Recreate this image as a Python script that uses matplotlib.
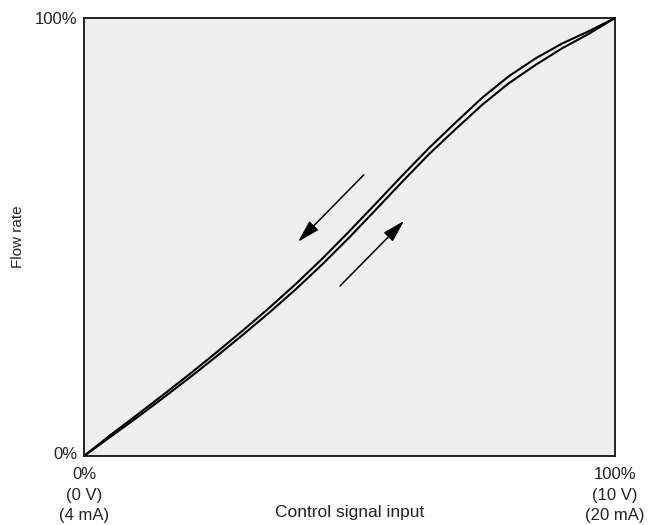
import matplotlib.pyplot as plt
from matplotlib.transforms import ScaledTranslation

plt.rcParams["font.family"] = ["Liberation Sans", "DejaVu Sans"]

# control signal (% of span) vs flow rate (%), two branches of the hysteresis loop
signal = [0, 5, 10, 15, 20, 25, 30, 35, 40, 45, 50, 55, 60, 65, 70, 75, 80, 85, 90, 95, 100]
flow_decreasing = [0, 4.8, 9.4, 14.05, 18.8, 23.7, 28.75, 33.95, 39.4, 45.2, 51.35,
                   57.7, 64.1, 70.35, 76.15, 81.8, 86.7, 90.75, 94.15, 96.95, 100]
flow_increasing = [0, 4.4, 8.8, 13.35, 18.0, 22.8, 27.75, 32.85, 38.2, 43.9, 49.95,
                   56.3, 62.7, 68.95, 74.65, 80.2, 85.1, 89.25, 93.05, 96.35, 100]

x_ticks = [0, 100]
x_tick_labels = ["0%\n(0 V)\n(4 mA)", "100%\n(10 V)\n(20 mA)"]
y_ticks = [0, 100]
y_tick_labels = ["0%", "100%"]

# direction arrows: (tail, head) in data units
arrow_down = ((52.7, 64.2), (40.3, 48.9))
arrow_up = ((48.2, 38.8), (60.3, 53.7))

fig = plt.figure(figsize=(6.63, 5.25), dpi=100)
ax = fig.add_axes([84 / 663, 1 - 456 / 525, 531 / 663, 438 / 525])
ax.set_facecolor("#efefef")

for flow in (flow_decreasing, flow_increasing):
    ax.plot(signal, flow, color="black", lw=1.5,
            solid_capstyle="round", solid_joinstyle="round")

for tail, head in (arrow_down, arrow_up):
    ax.annotate("", xy=head, xytext=tail,
                arrowprops=dict(arrowstyle="-|>,head_length=1.15,head_width=0.32",
                                color="black", lw=1.1, shrinkA=0, shrinkB=0,
                                mutation_scale=12))

ax.set_xlim(0, 100)
ax.set_ylim(0, 100)
ax.set_xticks(x_ticks, labels=x_tick_labels)
ax.set_yticks(y_ticks, labels=y_tick_labels)
ax.tick_params(length=0, labelsize=12, colors="#222222")
ax.tick_params(axis="x", pad=8)
ax.tick_params(axis="y", pad=5)
for lab in ax.get_xticklabels():
    lab.set_linespacing(1.45)
# the bottom "0%" sits a little above the axis line
ylabs = ax.get_yticklabels()
ylabs[0].set_transform(ylabs[0].get_transform() + ScaledTranslation(0, 3 / 100, fig.dpi_scale_trans))
for sp in ax.spines.values():
    sp.set_linewidth(1.2)

ax.text(0.5, -0.128, "Control signal input", transform=ax.transAxes,
        ha="center", va="center", fontsize=12.5, color="#222222")
ax.set_ylabel("Flow rate", fontsize=11, color="#222222")
ax.yaxis.set_label_coords(-0.112, 0.5)

fig.savefig("out.png", dpi=100)
